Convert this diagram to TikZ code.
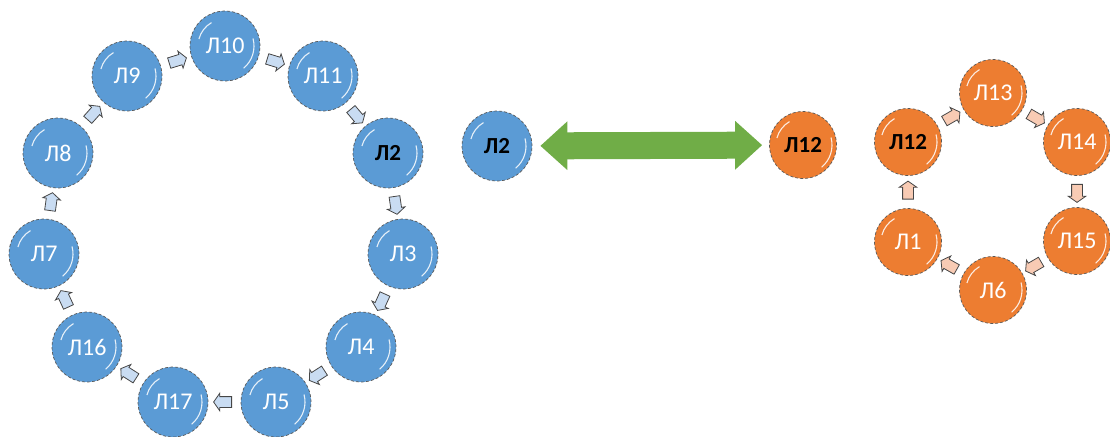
\documentclass[tikz,border=0pt]{standalone}
\usepackage{fontspec}
\setmainfont{Carlito}
\usetikzlibrary{arrows.meta,shapes.arrows}
\definecolor{ballblue}{HTML}{5B9BD5}
\definecolor{ballorange}{HTML}{ED7D31}
\definecolor{pipeblue}{HTML}{C9DCF2}
\definecolor{pipeorange}{HTML}{F8CBB4}
\definecolor{linkgreen}{HTML}{70AD47}
\tikzset{% common styles of the ring pictures
  ball/.style      = {shape=circle, minimum size=70pt, inner sep=0pt,
                      draw=gray!70!black, densely dashed, line width=0.7pt,
                      text=white, font=\fontsize{24}{26}\selectfont,
                      path picture={% glossy highlights
                        \draw[white, solid, line width=1.1pt, opacity=.85]
                          ([shift={(165:27pt)}]path picture bounding box.center)
                          arc[start angle=165, end angle=120, radius=27pt];
                        \draw[white, solid, line width=1.1pt, opacity=.85]
                          ([shift={(-50:29pt)}]path picture bounding box.center)
                          arc[start angle=-50, end angle=15, radius=29pt];}},
  blueball/.style  = {ball, fill=ballblue},
  orangeball/.style= {ball, fill=ballorange, minimum size=67pt},
  key/.style       = {text=black, font=\fontsize{23}{26}\selectfont\bfseries},
  pipe/.style      = {shape=single arrow, inner sep=5pt, minimum height=18pt,
                      single arrow head extend=3.5pt, single arrow tip angle=110,
                      draw=gray!55!black, line width=0.8pt,
                      sloped, allow upside down},
  bluepipe/.style  = {pipe, fill=pipeblue},
  orangepipe/.style= {pipe, fill=pipeorange},
}
\begin{document}
\begin{tikzpicture}[x=1pt, y=-1pt]
  \useasboundingbox (0,0) rectangle (1110,436);
  % big ring
  \node [blueball] (l10) at (225,46)  {Л10};
  \node [blueball] (l9)  at (127,76)  {Л9};
  \node [blueball] (l11) at (323,76)  {Л11};
  \node [blueball] (l8)  at (58,153)  {Л8};
  \node [blueball, key] (l2) at (388,153) {Л2};
  \node [blueball] (l7)  at (44,254)  {Л7};
  \node [blueball] (l3)  at (403,254) {Л3};
  \node [blueball] (l16) at (87,347)  {Л16};
  \node [blueball] (l4)  at (361,347) {Л4};
  \node [blueball] (l17) at (173,402) {Л17};
  \node [blueball] (l5)  at (276,402) {Л5};
  \foreach \a/\b in {l9/l10, l10/l11, l11/l2, l2/l3, l3/l4, l4/l5,
                     l5/l17, l17/l16, l16/l7, l7/l8, l8/l9}
    \path (\a) -- node [bluepipe] {} (\b);
  % link between the rings
  \node [blueball, key]   (m2)  at (497,146) {Л2};
  \node [orangeball, key] (m12) at (803,145) {Л12};
  \draw [linkgreen, line width=27pt,
         {Triangle[length=27pt, width=47pt]}-{Triangle[length=27pt, width=47pt]},
         shorten <=8pt, shorten >=7pt] (m2) -- (m12);
  % small ring
  \node [orangeball] (r13) at (993,93)  {Л13};
  \node [orangeball, key] (r12) at (908,142) {Л12};
  \node [orangeball] (r14) at (1077,142) {Л14};
  \node [orangeball] (r1)  at (908,242) {Л1};
  \node [orangeball] (r15) at (1077,241) {Л15};
  \node [orangeball] (r6)  at (993,290) {Л6};
  \foreach \a/\b in {r12/r13, r13/r14, r14/r15, r15/r6, r6/r1, r1/r12}
    \path (\a) -- node [orangepipe] {} (\b);
\end{tikzpicture}
\end{document}
